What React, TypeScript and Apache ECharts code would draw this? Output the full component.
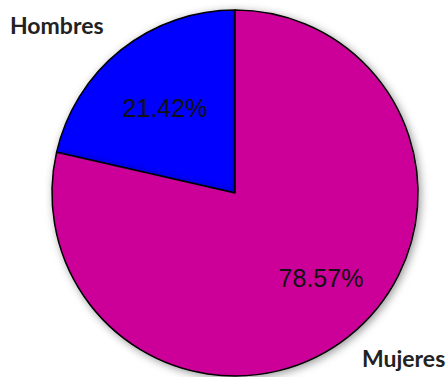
import React, { useEffect, useRef } from "react";
import * as echarts from "echarts";

const categories = ["Hombres", "Mujeres"];
const values = [21.42, 78.57];
const colors = ["#0000FF", "#CC0099"];

export default function App() {
  const ref = useRef<HTMLDivElement>(null);
  useEffect(() => {
    const chart = echarts.init(ref.current!, null, { renderer: "svg" });
    const labelPos = [
      [165, 108],
      [321, 278],
    ];
    chart.setOption({
      animation: false,
      series: [
        {
          type: "pie",
          center: [235, 193],
          radius: 183,
          startAngle: 90,
          clockwise: false,
          data: categories.map((c, i) => ({
            name: c,
            value: values[i],
            itemStyle: { color: colors[i] },
          })),
          itemStyle: {
            borderColor: "#000",
            borderWidth: 1.5,
            shadowColor: "rgba(0,0,0,0.4)",
            shadowBlur: 8,
            shadowOffsetX: 2,
            shadowOffsetY: 2,
          },
          label: {
            show: true,
            position: "inside",
            formatter: "{c}%",
            fontFamily: "Liberation Sans",
            fontSize: 25,
            color: "#111",
          },
          labelLine: { show: false },
          labelLayout: (p: any) => ({
            x: labelPos[p.dataIndex][0],
            y: labelPos[p.dataIndex][1],
            align: "center",
            verticalAlign: "middle",
          }),
          emphasis: { disabled: true },
        },
      ],
      graphic: [
        {
          type: "text",
          left: 10,
          top: 13,
          style: {
            text: categories[0],
            font: "bold 23px Lato",
            fill: "#222",
          },
        },
        {
          type: "text",
          left: 362,
          top: 346,
          style: {
            text: categories[1],
            font: "bold 23px Lato",
            fill: "#222",
          },
        },
      ],
    });
    return () => chart.dispose();
  }, []);
  return <div ref={ref} style={{ width: 448, height: 377, position: "absolute", left: 0, top: 0 }} />;
}
